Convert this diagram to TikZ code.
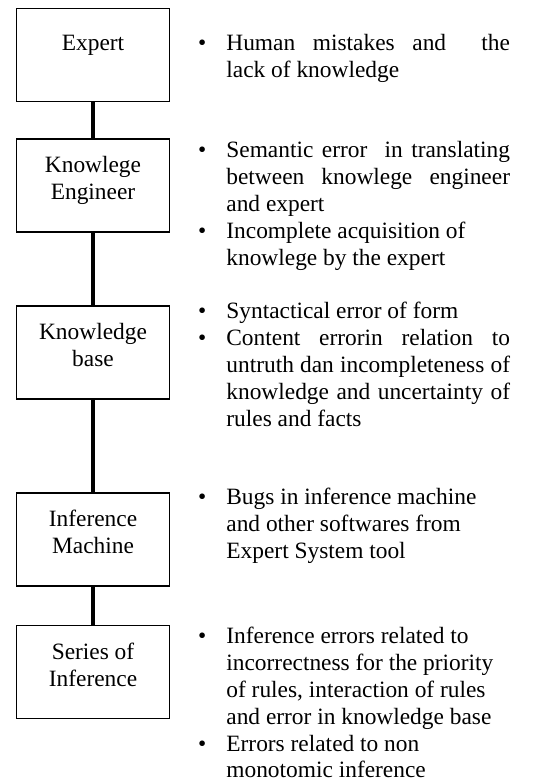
\documentclass[tikz,border=0pt]{standalone}
\usepackage{fontspec}
\setmainfont{Liberation Serif}
\usepackage{tikz}
\usetikzlibrary{positioning}
\newlength{\colw}
\setlength{\colw}{145.5pt}
\newcommand{\jline}[1]{\makebox[\colw][s]{#1}}
\newcommand{\bul}{\makebox[0pt][r]{\textbullet\hspace{10.3pt}}}

\begin{document}
\begin{tikzpicture}[x=0.513pt, y=-0.513pt,
    font=\fontsize{12}{13.8}\selectfont,
    box/.style={draw, line width=0.9pt, inner sep=0pt,
        minimum width=78.5pt, minimum height=47.7pt,
        align=center, text depth=7.8pt},
    link/.style={line width=1.6pt},
    note/.style={anchor=north west, text width=\colw, align=justify, inner sep=0pt}
  ]
  \useasboundingbox (0,0) rectangle (535,782);
  % left column: the chain of sources
  \node[box, text depth=12.8pt] (expert) at (93,55) {Expert};
  \node[box, below=18.5pt of expert]   (engineer) {Knowlege\\Engineer};
  \node[box, below=36.9pt of engineer] (kbase)    {Knowledge\\base};
  \node[box, below=47.2pt of kbase]    (machine)  {Inference\\Machine};
  \node[box, below=19.5pt of machine]  (series)   {Series of\\Inference};
  \draw[link] (expert)   -- (engineer);
  \draw[link] (engineer) -- (kbase);
  \draw[link] (kbase)    -- (machine);
  \draw[link] (machine)  -- (series);
  % right column: the errors of each source
  \node[note] (errexpert) at (226,31.2) {\strut\bul\jline{Human mistakes and\ \ the}\\
    lack of knowledge};
  \node[note] (errengineer) at (226,138.2) {\strut\bul\jline{Semantic error\ \ in translating}\\
    \jline{between knowlege engineer}\\
    and expert\\
    \bul Incomplete acquisition of\\
    knowlege by the expert};
  \node[note] (errkbase) at (226,299.2) {\strut\bul Syntactical error of form\\
    \bul\jline{Content errorin relation to}\\
    \jline{untruth dan incompleteness of}\\
    \jline{knowledge and uncertainty of}\\
    rules and facts};
  \node[note] (errmachine) at (226,485.2) {\strut\bul Bugs in inference machine\\
    and other softwares from\\
    Expert System tool};
  \node[note] (errseries) at (226,624.2) {\strut\bul Inference errors related to\\
    incorrectness for the priority\\
    of rules, interaction of rules\\
    and error in knowledge base\\
    \bul Errors related to non\\
    monotomic inference};
\end{tikzpicture}
\end{document}
